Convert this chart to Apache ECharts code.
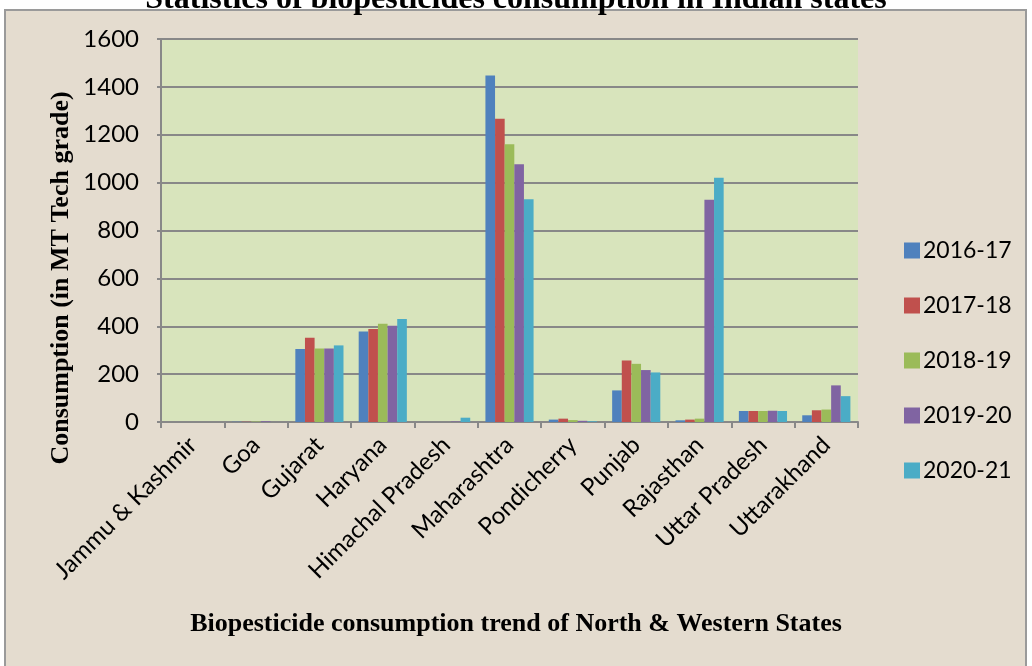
<!DOCTYPE html>
<html>
<head>
<meta charset="utf-8">
<script src="https://cdn.jsdelivr.net/npm/echarts@6/dist/echarts.min.js"></script>
<style>
  html, body { margin: 0; padding: 0; background: #fff; }
  #main { width: 1032px; height: 666px; }
</style>
</head>
<body>
<div id="main"></div>
<script>
const states = ['Jammu & Kashmir', 'Goa', 'Gujarat', 'Haryana', 'Himachal Pradesh', 'Maharashtra',
  'Pondicherry', 'Punjab', 'Rajasthan', 'Uttar Pradesh', 'Uttarakhand']
const years = ['2016-17', '2017-18', '2018-19', '2019-20', '2020-21']
const y2016 = [0, 1, 305, 378, 0, 1448, 10, 132, 7, 46, 28]
const y2017 = [0, 1, 352, 388, 0, 1267, 14, 257, 10, 46, 49]
const y2018 = [0, 2, 307, 410, 0, 1160, 8, 243, 14, 46, 52]
const y2019 = [0, 3, 307, 402, 2, 1077, 5, 217, 928, 47, 153]
const y2020 = [0, 0, 320, 430, 18, 931, 3, 207, 1020, 46, 108]
const colors = ['#4f81bd', '#c0504d', '#9bbb59', '#8064a2', '#4bacc6']

const chart = echarts.init(document.getElementById('main'))
const seriesData = [y2016, y2017, y2018, y2019, y2020]

chart.setOption({
  animation: false,
  color: colors,
  title: {
    text: 'Statistics of biopesticides consumption in Indian states',
    left: 'center',
    top: -21,
    textStyle: { fontFamily: 'Liberation Serif', fontWeight: 'bold', fontSize: 32, color: '#000' }
  },
  graphic: [
    {
      type: 'rect', z: -10, silent: true,
      shape: { x: 5, y: 10, width: 1021, height: 670 },
      style: { fill: '#e4dccf', stroke: '#9a9a9a', lineWidth: 2 }
    },
    {
      type: 'text', left: 'center', top: 611,
      style: {
        text: 'Biopesticide consumption trend of North & Western States',
        font: 'bold 26px "Liberation Serif"', fill: '#000'
      }
    },
    {
      type: 'text', x: 61, y: 278, rotation: Math.PI / 2,
      style: {
        text: 'Consumption (in MT Tech grade)',
        font: 'bold 26px "Liberation Serif"', fill: '#000',
        align: 'center', verticalAlign: 'middle'
      }
    }
  ],
  legend: {
    orient: 'vertical',
    left: 899,
    top: 234,
    itemWidth: 16,
    itemHeight: 16,
    itemGap: 32,
    icon: 'rect',
    textStyle: { fontFamily: 'Lato', fontSize: 23, color: '#000', padding: [0, 0, 0, -2] },
    data: years
  },
  grid: {
    left: 161, right: 174, top: 39, bottom: 244,
    show: true, backgroundColor: '#d8e4bc', borderWidth: 0
  },
  xAxis: {
    type: 'category',
    data: states,
    axisLine: { lineStyle: { color: '#888', width: 2 } },
    axisTick: { show: true, length: 6, lineStyle: { color: '#888', width: 2 } },
    axisLabel: { rotate: 45, fontFamily: 'Lato', fontSize: 24, color: '#000', margin: 19, interval: 0 }
  },
  yAxis: {
    type: 'value',
    min: 0, max: 1600, interval: 200,
    axisLine: { show: true, lineStyle: { color: '#888', width: 2 } },
    axisTick: { show: true, length: 4, lineStyle: { color: '#888', width: 2 } },
    splitLine: { lineStyle: { color: '#888', width: 2 } },
    axisLabel: { fontFamily: 'Lato', fontSize: 24, color: '#000', margin: 22, formatter: v => String(v) }
  },
  series: years.map((y, i) => ({
    name: y,
    type: 'bar',
    data: seriesData[i],
    barGap: '0%',
    barCategoryGap: '24%',
    itemStyle: { color: colors[i] }
  }))
})
</script>
</body>
</html>
